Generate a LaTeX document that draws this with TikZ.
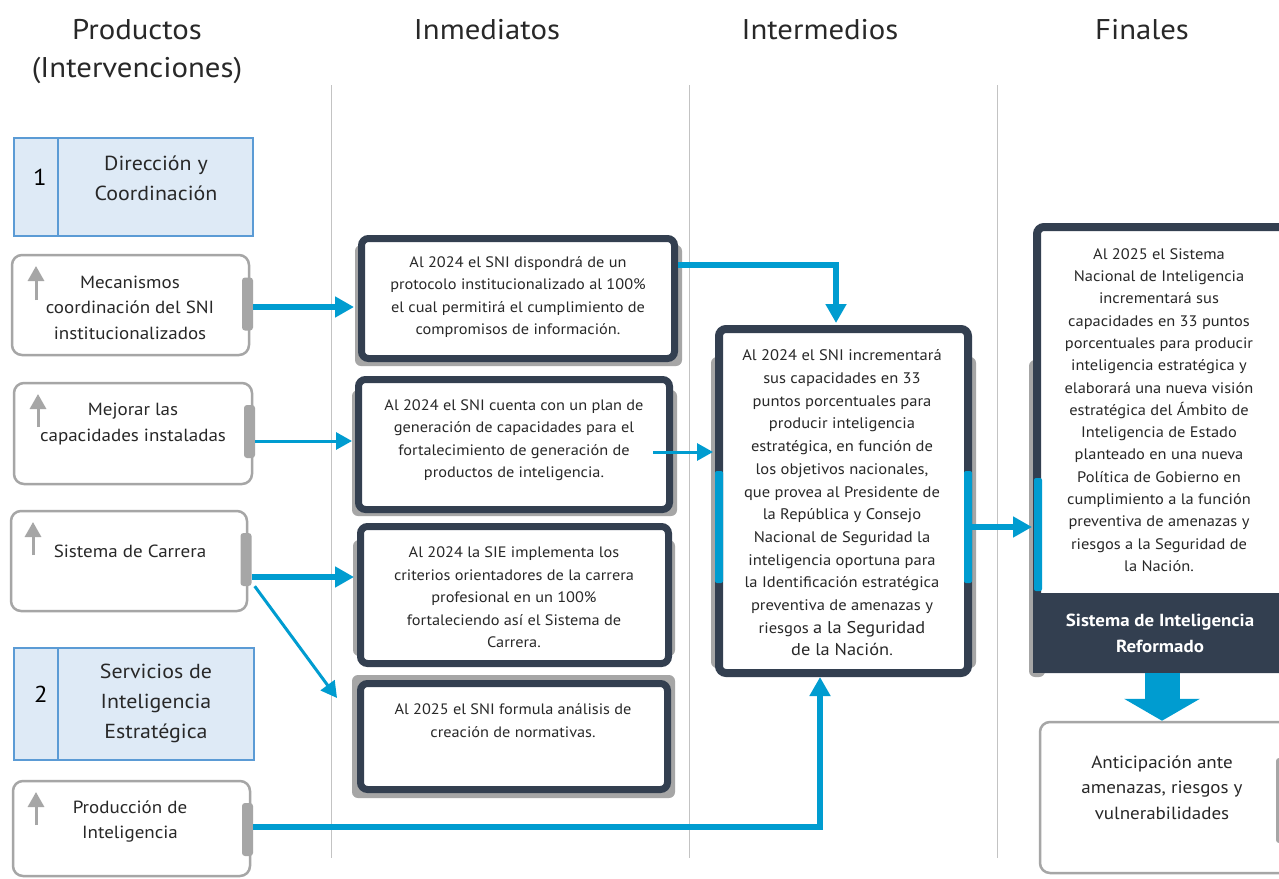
\documentclass[tikz,border=0pt]{standalone}
\usepackage{fontspec}
\setmainfont{PT Sans}[FakeStretch=1.08]
\usetikzlibrary{arrows.meta,calc}
\definecolor{navy}{RGB}{51,63,80}
\definecolor{cblue}{RGB}{0,156,208}
\definecolor{lgray}{RGB}{166,166,166}
\definecolor{vgray}{RGB}{195,195,195}
\definecolor{hfill}{RGB}{222,234,246}
\definecolor{hborder}{RGB}{91,155,213}
\definecolor{txt}{RGB}{40,40,40}
\tikzset{
 lbox/.style={draw=lgray, line width=2.5pt, rounded corners=10pt, fill=white, inner sep=0pt},
 tabx/.style={fill=lgray, rounded corners=3pt, inner sep=0pt, minimum width=11pt, minimum height=53pt},
 hbox/.style={draw=hborder, fill=hfill, line width=2.5pt, inner sep=0pt},
 ibox/.style={draw=navy, fill=white, line width=7pt, rounded corners=7pt, inner sep=0pt},
 shad/.style={fill=lgray, rounded corners=6pt},
 hdr/.style={font=\fontsize{28.5}{36}\selectfont, text=txt, align=center, inner sep=0pt},
 ltxt/.style={font=\fontsize{17.6}{25.5}\selectfont, text=txt, align=center, inner sep=0pt},
 gtxt/.style={font=\fontsize{20.3}{30}\selectfont, text=txt, align=center, inner sep=0pt},
 btxt/.style={font=\fontsize{15.1}{22.5}\selectfont, text=txt, align=center, inner sep=0pt},
 numt/.style={font=\fontsize{23}{28}\selectfont, text=black, inner sep=0pt},
 upar/.style={draw=lgray, line width=3pt, -{Triangle[width=16pt,length=15pt]}},
 thk/.style={draw=cblue, line width=5.5pt, -{Triangle[width=20pt,length=19pt]}},
 thn/.style={draw=cblue, line width=3pt, -{Triangle[width=17pt,length=16pt]}},
 vln/.style={draw=vgray, line width=1pt},
}
\begin{document}
\begin{tikzpicture}[x=1pt,y=-1pt]
\clip (0,0) rectangle (1279,878);
\fill[white] (0,0) rectangle (1279,878);

% headers
\node[hdr] (h1) at (137,30) {Productos};
\node[hdr] (h1b) at (137,70) {(Intervenciones)};
\node[hdr] (h2) at (487,30) {Inmediatos};
\node[hdr] (h3) at (820,30) {Intermedios};
\node[hdr] (h4) at (1142,30) {Finales};

% column lines
\draw[vln] (331,85) -- (331,858);
\draw[vln] (689,85) -- (689,858);
\draw[vln] (997,85) -- (997,858);

% group boxes
\node[hbox, minimum width=239pt, minimum height=98pt] (g1) at (133.5,187) {};
\draw[draw=hborder, line width=2.5pt] ($(g1.north west)+(45,1.25)$) -- ($(g1.south west)+(45,-1.25)$);
\node[numt] (n1) at (40,177) {1};
\node[gtxt] (g1t) at (156,178) {Dirección y\\Coordinación};

\node[hbox, minimum width=240pt, minimum height=112pt] (g2) at (134,704) {};
\draw[draw=hborder, line width=2.5pt] ($(g2.north west)+(45,1.25)$) -- ($(g2.south west)+(45,-1.25)$);
\node[numt] (n2) at (41,694) {2};
\node[gtxt] (g2t) at (156,703) {Servicios de\\Inteligencia\\Estratégica};

% product boxes
\node[lbox, minimum width=237pt, minimum height=100pt] (m1) at (130.5,305) {};
\node[tabx] (t1) at (247.5,304) {};
\draw[upar] (36,300) -- (36,266);
\node[ltxt] (m1t) at (130,307.5) {Mecanismos\\coordinación del SNI\\institucionalizados};

\node[lbox, minimum width=238pt, minimum height=101pt] (m2) at (133,433.5) {};
\node[tabx] (t2) at (249.5,431.5) {};
\draw[upar] (38,427) -- (38,394);
\node[ltxt] (m2t) at (133,424) {Mejorar las\\capacidades instaladas};

\node[lbox, minimum width=236pt, minimum height=100pt] (m3) at (129,561) {};
\node[tabx] (t3) at (246,559.5) {};
\draw[upar] (33,555) -- (33,522);
\node[ltxt] (m3t) at (130,551) {Sistema de Carrera};

\node[lbox, minimum width=237pt, minimum height=95pt] (m4) at (131.5,828.5) {};
\node[tabx] (t4) at (247.5,829.5) {};
\draw[upar] (36,825) -- (36,792);
\node[ltxt] (m4t) at (130,821.5) {Producción de\\Inteligencia};

% immediate results
\fill[shad] (355,245) rectangle (682,366);
\node[ibox, minimum width=313pt, minimum height=120pt] (b1) at (518,298.5) {};
\node[btxt] (b1t) at (518,297) {Al 2024 el SNI dispondrá de un\\protocolo institucionalizado al 100\%\\el cual permitirá el cumplimiento de\\compromisos de información.};

\fill[shad] (352,390) rectangle (677,516);
\node[ibox, minimum width=311pt, minimum height=130pt] (b2) at (514,444.5) {};
\node[btxt] (b2t) at (514,440) {Al 2024 el SNI cuenta con un plan de\\generación de capacidades para el\\fortalecimiento de generación de\\productos de inteligencia.};

\fill[shad] (353,540) rectangle (675,656);
\node[ibox, minimum width=308pt, minimum height=137pt] (b3) at (514.5,595) {};
\node[btxt] (b3t) at (514,597.5) {Al 2024 la SIE implementa los\\criterios orientadores de la carrera\\profesional en un 100\%\\fortaleciendo así el Sistema de\\Carrera.};

\fill[shad] (352,675) rectangle (675,798);
\node[ibox, minimum width=307pt, minimum height=106pt] (b4) at (514,736.5) {};
\node[btxt] (b4t) at (513,720.5) {Al 2025 el SNI formula análisis de\\creación de normativas.};

% intermediate
\fill[shad] (711,357) rectangle (976,668);
\node[ibox, line width=8pt, minimum width=249pt, minimum height=344pt] (mid) at (843.5,501) {};
\fill[cblue, rounded corners=2pt] (715,471) rectangle (723,583);
\fill[cblue, rounded corners=2pt] (964,471) rectangle (972,583);
\node[btxt, font=\fontsize{15.3}{22.7}\selectfont] (midt) at (842,503) {Al 2024 el SNI incrementará\\sus capacidades en 33\\puntos porcentuales para\\producir inteligencia\\estratégica, en función de\\los objetivos nacionales,\\que provea al Presidente de\\la República y Consejo\\Nacional de Seguridad la\\inteligencia oportuna para\\la Identificación estratégica\\preventiva de amenazas y\\riesgos {\fontsize{17}{24}\selectfont a la Seguridad}\\{\fontsize{17}{24}\selectfont de la Nación}.};

% final
\fill[shad] (1029,360) rectangle (1045,677);
\node[ibox, line width=8pt, minimum width=253pt, minimum height=442pt] (fin) at (1163.5,448) {};
\fill[navy] (1033,593) rectangle (1290,673);
\fill[cblue, rounded corners=2pt] (1034,478) rectangle (1042,591);
\node[btxt, font=\fontsize{15.2}{22.3}\selectfont] (fint) at (1159,410) {Al 2025 el Sistema\\Nacional de Inteligencia\\incrementará sus\\capacidades en 33 puntos\\porcentuales para producir\\inteligencia estratégica y\\elaborará una nueva visión\\estratégica del Ámbito de\\Inteligencia de Estado\\planteado en una nueva\\Política de Gobierno en\\cumplimiento a la función\\preventiva de amenazas y\\riesgos a la Seguridad de\\la Nación.};
\node[btxt, font=\fontsize{17.5}{26}\selectfont\bfseries, text=white] (finl) at (1160,633) {Sistema de Inteligencia\\Reformado};

% outcome
\node[lbox, minimum width=260pt, minimum height=151pt] (ant) at (1170,797.5) {};
\fill[lgray, rounded corners=3pt] (1276,758) rectangle (1287,843);
\node[ltxt] (antt) at (1162,787.5) {Anticipación ante\\amenazas, riesgos y\\vulnerabilidades};

% connectors
\coordinate (y307) at (0,307);
\coordinate (y441) at (0,441);
\coordinate (y577) at (0,577);
\coordinate (y265) at (0,265);
\coordinate (y452) at (0,452);
\coordinate (y827) at (0,827);
\coordinate (y527) at (0,527);
\coordinate (a4end) at (337,698);
\coordinate (a6s) at (653,452);

\draw[thk, shorten >=4pt] (t1.east |- y307) -- (b1.west |- y307);
\draw[thn, shorten >=3pt] (t2.east |- y441) -- (b2.west |- y441);
\draw[thk, shorten >=3pt] (t3.east |- y577) -- (b3.west |- y577);
\draw[thn] (t3.south east) ++(3,0) -- (a4end);
\draw[thk, shorten >=2pt] (b1.east |- y265) -| ($(mid.north)+(-7.5,0)$);
\draw[thn, shorten >=2pt] (a6s) -- (mid.west |- y452);
\draw[thk] (t4.east |- y827) -| ($(mid.south)+(-23.5,0)$);
\draw[thk, shorten >=1pt] (mid.east |- y527) -- (fin.west |- y527);
\draw[draw=cblue, line width=35pt, -{Triangle[width=75pt,length=22pt]}] ($(fin.south)+(-1.5,0)$) -- ($(ant.north)+(-8,0)$);
\end{tikzpicture}
\end{document}
